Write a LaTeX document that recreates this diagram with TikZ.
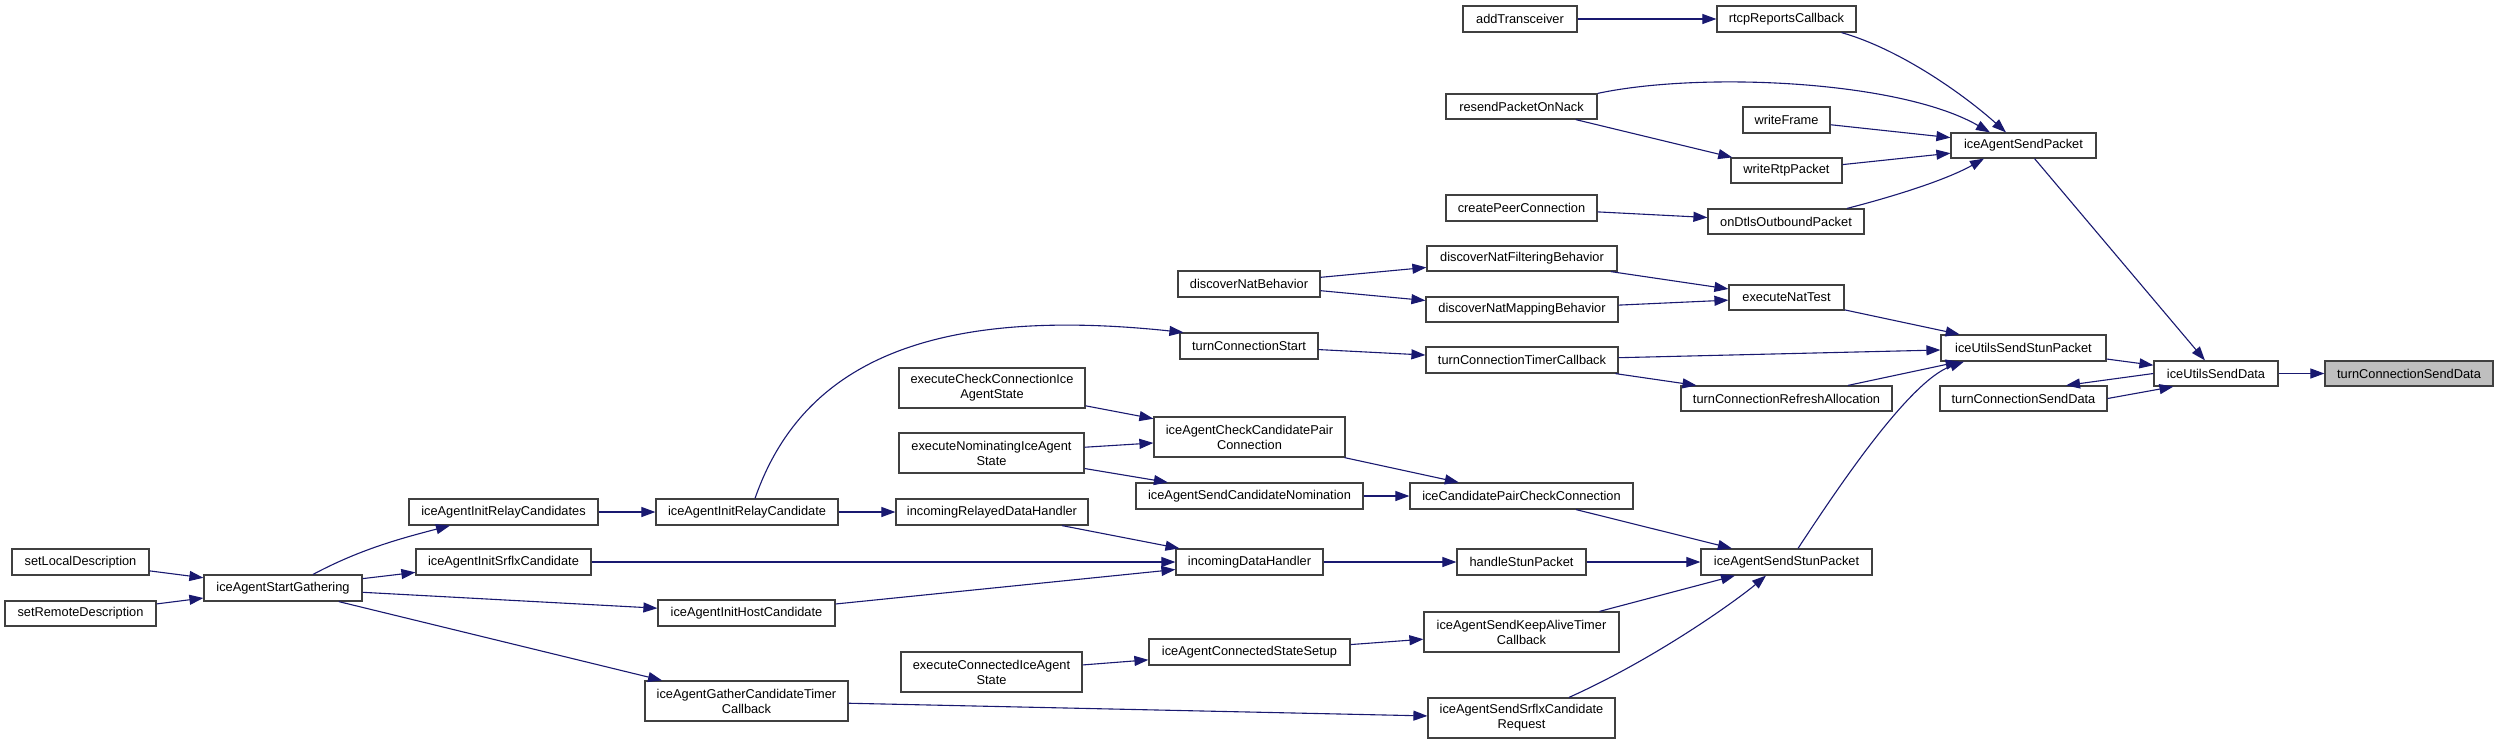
\documentclass[tikz,border=0pt]{standalone}
\usepackage{fontspec}
\setmainfont{Liberation Sans}
\usetikzlibrary{arrows.meta,calc}
\definecolor{edgeblue}{HTML}{191970}
\definecolor{boxline}{HTML}{404040}
\definecolor{mainfill}{HTML}{BFBFBF}
\tikzset{
  dxnode/.style={draw=boxline, fill=white, line width=0.6pt, inner sep=0pt,
    align=center, text=black, font=\fontsize{6.4}{7.5}\selectfont},
  dxedge/.style={draw=edgeblue, line width=0.55pt,
    -{Triangle[length=7pt,width=5pt,fill=edgeblue]}}
}
\newcommand\dxbox[7][]{\node[dxnode,#1,minimum width={(#5-#3)*0.5pt},minimum height={(#6-#4)*0.5pt}] (#2) at ({(#3+#5)/2},{(#4+#6)/2}) {#7};}
\begin{document}
\begin{tikzpicture}[x=0.5pt,y=-0.5pt]
\fill[white] (0,0) rectangle (2497,745);
\useasboundingbox (0,0) rectangle (2497,745);
% nodes
\dxbox{addT}{1463}{6}{1577}{32}{addTransceiver}
\dxbox{rtcp}{1717}{6}{1856}{32}{rtcpReportsCallback}
\dxbox{resend}{1446}{94}{1597}{119}{resendPacketOnNack}
\dxbox{wframe}{1743}{107}{1830}{133}{writeFrame}
\dxbox{wrtp}{1731}{158}{1842}{183}{writeRtpPacket}
\dxbox{createpc}{1446}{195}{1597}{221}{createPeerConnection}
\dxbox{ondtls}{1708}{209}{1864}{234}{onDtlsOutboundPacket}
\dxbox{dnfb}{1427}{246}{1617}{271}{discoverNatFilteringBehavior}
\dxbox{dnmb}{1426}{297}{1618}{322}{discoverNatMappingBehavior}
\dxbox{dnb}{1178}{271}{1320}{297}{discoverNatBehavior}
\dxbox{ent}{1729}{285}{1844}{310}{executeNatTest}
\dxbox{tcs}{1180}{333}{1318}{359}{turnConnectionStart}
\dxbox{tctc}{1426}{347}{1618}{373}{turnConnectionTimerCallback}
\dxbox{tcra}{1681}{386}{1892}{411}{turnConnectionRefreshAllocation}
\dxbox{iasp}{1951}{133}{2096}{158}{iceAgentSendPacket}
\dxbox{iussp}{1941}{335}{2106}{361}{iceUtilsSendStunPacket}
\dxbox{iusd}{2154}{361}{2278}{386}{iceUtilsSendData}
\dxbox[fill=mainfill]{tcsdm}{2325}{361}{2493}{386}{turnConnectionSendData}
\dxbox{tcsd}{1940}{386}{2107}{411}{turnConnectionSendData}
\dxbox{setlocal}{12}{549}{149}{575}{setLocalDescription}
\dxbox{setremote}{5}{601}{156}{626}{setRemoteDescription}
\dxbox{iasg}{204}{575}{362}{601}{iceAgentStartGathering}
\dxbox{iaircs}{409}{499}{598}{525}{iceAgentInitRelayCandidates}
\dxbox{iaisc}{416}{549}{591}{575}{iceAgentInitSrflxCandidate}
\dxbox{iaihc}{658}{600}{835}{626}{iceAgentInitHostCandidate}
\dxbox{iagctc}{645}{681}{848}{721}{iceAgentGatherCandidateTimer\\Callback}
\dxbox{iairc}{656}{499}{838}{525}{iceAgentInitRelayCandidate}
\dxbox{irdh}{896}{499}{1088}{525}{incomingRelayedDataHandler}
\dxbox{ecc}{899}{368}{1085}{408}{executeCheckConnectionIce\\AgentState}
\dxbox{enom}{899}{433}{1084}{473}{executeNominatingIceAgent\\State}
\dxbox{iaccpc}{1154}{417}{1345}{457}{iceAgentCheckCandidatePair\\Connection}
\dxbox{iascn}{1136}{483}{1363}{509}{iceAgentSendCandidateNomination}
\dxbox{idh}{1176}{549}{1323}{575}{incomingDataHandler}
\dxbox{ecias}{901}{652}{1082}{692}{executeConnectedIceAgent\\State}
\dxbox{iacss}{1149}{639}{1350}{665}{iceAgentConnectedStateSetup}
\dxbox{icpcc}{1410}{483}{1633}{509}{iceCandidatePairCheckConnection}
\dxbox{hsp}{1457}{549}{1586}{575}{handleStunPacket}
\dxbox{iassp}{1701}{549}{1872}{575}{iceAgentSendStunPacket}
\dxbox{iaskatc}{1424}{612}{1619}{652}{iceAgentSendKeepAliveTimer\\Callback}
\dxbox{iassrc}{1428}{698}{1615}{738}{iceAgentSendSrflxCandidate\\Request}
% edges
\draw[dxedge] (addT) -- (rtcp);
\draw[dxedge] ($(rtcp.south)+(55,0)$) .. controls +(60,17) and +(-40,-36) .. ($(iasp.north)+(-17.5,0)$);
\draw[dxedge] (resend.north east) .. controls +(103,-22) and +(-90,-52) .. ($(iasp.north)+(-33.5,0)$);
\draw[dxedge] (resend) -- (wrtp);
\draw[dxedge] (wframe) -- (iasp);
\draw[dxedge] (wrtp) -- (iasp);
\draw[dxedge] (createpc) -- (ondtls);
\draw[dxedge] ($(ondtls.north)+(61,0)$) .. controls +(43,-11) and +(-39,22) .. ($(iasp.south)+(-39.5,0)$);
\draw[dxedge] (dnb) -- (dnfb);
\draw[dxedge] (dnb) -- (dnmb);
\draw[dxedge] (dnfb) -- (ent);
\draw[dxedge] (dnmb) -- (ent);
\draw[dxedge] (ent) -- (iussp);
\draw[dxedge] (tcs) -- (tctc);
\draw[dxedge] (tctc) -- (iussp);
\draw[dxedge] (tctc) -- (tcra);
\draw[dxedge] (tcra) -- (iussp);
\draw[dxedge] (iasp) -- (iusd);
\draw[dxedge] (iussp) -- (iusd);
\draw[dxedge] (iusd.west) -- ($(tcsd.north)+(42.5,0)$);
\draw[dxedge] (tcsd.east) -- ($(iusd.south west)+(20,0)$);
\draw[dxedge] (iusd) -- (tcsdm);
\draw[dxedge] ($(iassp.north)+(11.5,0)$) .. controls +(42,-64) and +(-54,19) .. ($(iussp.south)+(-59.5,0)$);
\draw[dxedge] (setlocal) -- (iasg);
\draw[dxedge] (setremote) -- (iasg);
\draw[dxedge] ($(iasg.north)+(30,0)$) .. controls +(47,-25) and +(-50,13) .. ($(iaircs.south)+(-53.5,0)$);
\draw[dxedge] (iasg) -- (iaisc);
\draw[dxedge] (iasg) -- (iaihc);
\draw[dxedge] (iasg) -- (iagctc);
\draw[dxedge] (iaircs) -- (iairc);
\draw[dxedge] ($(iairc.north)+(8,0)$) .. controls +(45,-129) and +(-264,-28) .. ($(tcs.north west)+(4,0)$);
\draw[dxedge] (iairc) -- (irdh);
\draw[dxedge] (irdh) -- (idh);
\draw[dxedge] (iaisc) -- (idh);
\draw[dxedge] (iaihc) -- (idh);
\draw[dxedge] (ecc) -- (iaccpc);
\draw[dxedge] (enom) -- (iaccpc);
\draw[dxedge] (enom) -- (iascn);
\draw[dxedge] (iaccpc) -- (icpcc);
\draw[dxedge] (iascn) -- (icpcc);
\draw[dxedge] (icpcc) -- (iassp);
\draw[dxedge] (idh) -- (hsp);
\draw[dxedge] (hsp) -- (iassp);
\draw[dxedge] (ecias) -- (iacss);
\draw[dxedge] (iacss) -- (iaskatc);
\draw[dxedge] (iaskatc) -- (iassp);
\draw[dxedge] (iagctc) -- (iassrc);
\draw[dxedge] ($(iassrc.north)+(47.5,0)$) .. controls +(91,-41) and +(-26,22) .. ($(iassp.south)+(-20.5,0)$);
\end{tikzpicture}
\end{document}
